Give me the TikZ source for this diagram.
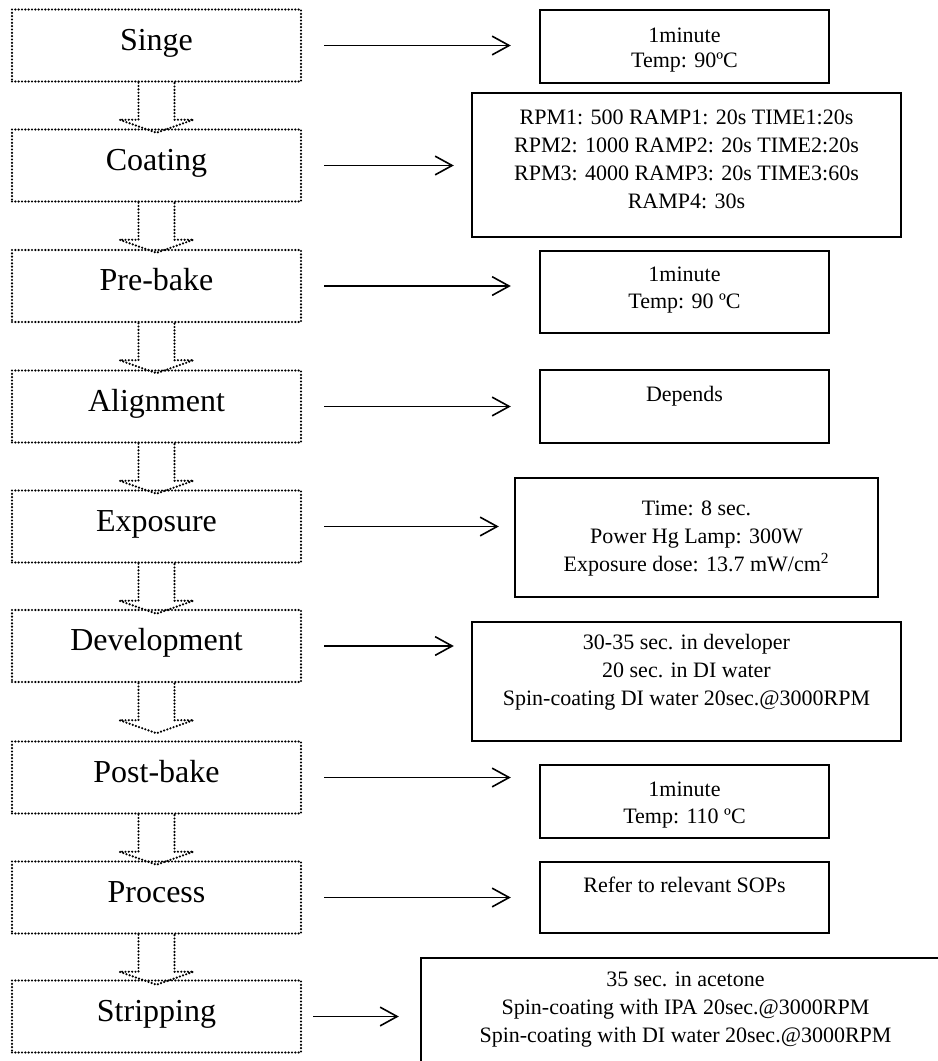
\documentclass[tikz,border=0pt]{standalone}
\usepackage{fontspec}
\setmainfont{Liberation Serif}
\usetikzlibrary{positioning,arrows.meta}

\tikzset{
  stepbox/.style={draw, line width=1.8pt, dash pattern=on 0pt off 2.5pt, line cap=round,
    minimum width=216.75pt, minimum height=54pt, inner sep=0pt,
    font=\fontsize{24}{28}\selectfont, text height=16pt, text depth=9.2pt},
  flowarrow/.style={line width=1.8pt, dash pattern=on 0pt off 2.5pt, line cap=round},
  infobox/.style={draw, line width=1.8pt, inner sep=0pt},
  infotext/.style={align=center, inner sep=0pt, font=\fontsize{16.5}{21}\selectfont},
  tolink/.style={line width=1.2pt, -{Straight Barb[length=12.75pt,width=14pt,line width=1.2pt]}},
}

\begin{document}
\begin{tikzpicture}[x=0.75pt, y=-0.75pt]
    \useasboundingbox (0,0) rectangle (938,1061);

    % process steps
    \node [stepbox] (singe) at (156.5,45.5) {Singe};
    \node [stepbox] (coating) at (156.5,165.5) {Coating};
    \node [stepbox] (prebake) at (156.5,286) {Pre-bake};
    \node [stepbox] (alignment) at (156.5,406.5) {Alignment};
    \node [stepbox] (exposure) at (156.5,526.5) {Exposure};
    \node [stepbox] (development) at (156.5,646) {Development};
    \node [stepbox] (postbake) at (156.5,777.5) {Post-bake};
    \node [stepbox] (process) at (156.5,897.5) {Process};
    \node [stepbox] (stripping) at (156.5,1016.5) {Stripping};

    % hollow arrows between the steps
    \draw [flowarrow] (singe.south) ++(-18,0) -- ++(0,37) -- ++(-19,0) -- ++(37,13) -- ++(37,-13) -- ++(-19,0) -- ++(0,-37);
    \draw [flowarrow] (coating.south) ++(-18,0) -- ++(0,37) -- ++(-19,0) -- ++(37,13) -- ++(37,-13) -- ++(-19,0) -- ++(0,-37);
    \draw [flowarrow] (prebake.south) ++(-18,0) -- ++(0,37) -- ++(-19,0) -- ++(37,13) -- ++(37,-13) -- ++(-19,0) -- ++(0,-37);
    \draw [flowarrow] (alignment.south) ++(-18,0) -- ++(0,37) -- ++(-19,0) -- ++(37,13) -- ++(37,-13) -- ++(-19,0) -- ++(0,-37);
    \draw [flowarrow] (exposure.south) ++(-18,0) -- ++(0,37) -- ++(-19,0) -- ++(37,13) -- ++(37,-13) -- ++(-19,0) -- ++(0,-37);
    \draw [flowarrow] (development.south) ++(-18,0) -- ++(0,37) -- ++(-19,0) -- ++(37,13) -- ++(37,-13) -- ++(-19,0) -- ++(0,-37);
    \draw [flowarrow] (postbake.south) ++(-18,0) -- ++(0,37) -- ++(-19,0) -- ++(37,13) -- ++(37,-13) -- ++(-19,0) -- ++(0,-37);
    \draw [flowarrow] (process.south) ++(-18,0) -- ++(0,37) -- ++(-19,0) -- ++(37,13) -- ++(37,-13) -- ++(-19,0) -- ++(0,-37);

    % parameter boxes
    \node [infobox, minimum width=216.75pt, minimum height=54.75pt] (singeinfo) at (684.5,46.5) {};
    \node [infobox, minimum width=321.75pt, minimum height=108pt] (coatinginfo) at (686.5,165) {};
    \node [infobox, minimum width=216.75pt, minimum height=61.5pt] (prebakeinfo) at (684.5,292) {};
    \node [infobox, minimum width=216.75pt, minimum height=54.75pt] (alignmentinfo) at (684.5,406.5) {};
    \node [infobox, minimum width=272.25pt, minimum height=89.25pt] (exposureinfo) at (696.5,537.5) {};
    \node [infobox, minimum width=321.75pt, minimum height=89.25pt] (developmentinfo) at (686.5,681.5) {};
    \node [infobox, minimum width=216.75pt, minimum height=54.75pt] (postbakeinfo) at (684.5,801.5) {};
    \node [infobox, minimum width=216.75pt, minimum height=53.25pt] (processinfo) at (684.5,897.5) {};
    \node [infobox, minimum width=396.75pt, minimum height=87.75pt] (strippinginfo) at (685.5,1016.5) {};

    \node [infotext, font=\fontsize{16.5}{19}\selectfont, below=14.25pt of singeinfo.north] (singetext) {1minute\\Temp: 90ºC};
    \node [infotext, below=13.5pt of coatinginfo.north] (coatingtext) {RPM1: 500 RAMP1: 20s TIME1:20s\\RPM2: 1000 RAMP2: 20s TIME2:20s\\RPM3: 4000 RAMP3: 20s TIME3:60s\\RAMP4: 30s};
    \node [infotext, font=\fontsize{16.5}{20}\selectfont, below=12.75pt of prebakeinfo.north] (prebaketext) {1minute\\Temp: 90 ºC};
    \node [infotext, below=12.75pt of alignmentinfo.north] (alignmenttext) {Depends};
    \node [infotext, below=18pt of exposureinfo.north] (exposuretext) {Time: 8 sec.\\Power Hg Lamp: 300W\\Exposure dose: 13.7 mW/cm\textsuperscript{2}};
    \node [infotext, below=9.75pt of developmentinfo.north] (developmenttext) {30-35 sec. in developer\\20 sec. in DI water\\Spin-coating DI water 20sec.@3000RPM};
    \begin{scope}
      % the second line is cut off at the bottom
      \clip (postbakeinfo.north west) rectangle ([yshift=7.5pt]postbakeinfo.south east);
      \node [infotext, font=\fontsize{16.5}{20}\selectfont, below=13.5pt of postbakeinfo.north] (postbaketext) {1minute\\Temp: 110 ºC};
    \end{scope}
    \node [infotext, below=12pt of processinfo.north] (processtext) {Refer to relevant SOPs};
    \node [infotext, below=11.25pt of strippinginfo.north] (strippingtext) {35 sec. in acetone\\Spin-coating with IPA 20sec.@3000RPM\\Spin-coating with DI water 20sec.@3000RPM};

    % links to the parameters
    \draw [tolink, shorten <=16.5pt, shorten >=21pt] (singe.east) -- (singe.east -| singeinfo.west);
    \draw [tolink, shorten <=16.5pt, shorten >=12.75pt] (coating.east) -- (coating.east -| coatinginfo.west);
    \draw [tolink, shorten <=16.5pt, shorten >=21pt] (prebake.east) -- (prebake.east -| prebakeinfo.west);
    \draw [tolink, shorten <=16.5pt, shorten >=21pt] (alignment.east) -- (alignment.east -| alignmentinfo.west);
    \draw [tolink, shorten <=16.5pt, shorten >=11.25pt] (exposure.east) -- (exposure.east -| exposureinfo.west);
    \draw [tolink, shorten <=16.5pt, shorten >=12.75pt] (development.east) -- (development.east -| developmentinfo.west);
    \draw [tolink, shorten <=16.5pt, shorten >=21pt] (postbake.east) -- (postbake.east -| postbakeinfo.west);
    \draw [tolink, shorten <=16.5pt, shorten >=21pt] (process.east) -- (process.east -| processinfo.west);
    \draw [tolink, shorten <=8.25pt, shorten >=15.75pt] (stripping.east) -- (stripping.east -| strippinginfo.west);
\end{tikzpicture}
\end{document}
